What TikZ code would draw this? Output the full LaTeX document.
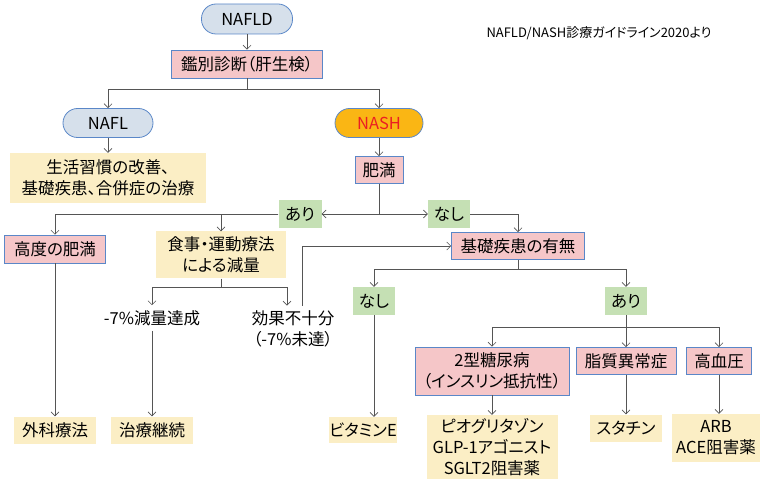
\documentclass[tikz,border=0pt]{standalone}
\usepackage{fontspec}
\setmainfont{Noto Sans CJK JP}[RawFeature=+palt]
\usetikzlibrary{arrows.meta}

\definecolor{termblue}{RGB}{214,224,235}
\definecolor{edgeblue}{RGB}{90,135,200}
\definecolor{boxpink}{RGB}{245,198,200}
\definecolor{boxyellow}{RGB}{251,238,197}
\definecolor{boxgreen}{RGB}{197,224,180}
\definecolor{nashorange}{RGB}{250,182,20}
\definecolor{nashred}{RGB}{235,30,35}
\definecolor{linegray}{RGB}{85,85,85}

\begin{document}
\begin{tikzpicture}
  [x=1pt,y=-1pt,
   every node/.style={font=\fontsize{16.5}{21}\selectfont,align=center,inner sep=0pt},
   term/.style={draw=edgeblue,line width=0.8pt,fill=termblue,rounded corners=14.5pt,minimum width=91pt,minimum height=30pt},
   pinkbox/.style={draw=edgeblue,line width=0.8pt,fill=boxpink,minimum height=28pt},
   yellowbox/.style={fill=boxyellow,minimum height=27pt},
   greenbox/.style={fill=boxgreen,minimum width=42pt,minimum height=28pt},
   note/.style={inner sep=5pt},
   wire/.style={draw=linegray,line width=0.6pt},
   link/.style={wire,-{Straight Barb[length=4pt,width=8pt]}}]
\useasboundingbox (0,0) rectangle (761,481);

\node (nafld)[term] at (247,19) {NAFLD};
\node (kanbetsu)[pinkbox,minimum width=151pt] at (247,64) {鑑別診断（肝生検）};
\node (nafl)[term,minimum width=90pt,minimum height=29pt] at (108,123) {NAFL};
\node (nash)[term,fill=nashorange,minimum width=88pt,minimum height=29pt] at (379,123) {\textcolor{nashred}{NASH}};
\node (seikatsu)[yellowbox,minimum width=196pt,minimum height=50pt] at (108,178) {生活習慣の改善、\\基礎疾患、合併症の治療};
\node (himan)[pinkbox,minimum width=48pt,minimum height=27pt] at (379,170) {肥満};
\node (ari1)[greenbox,minimum width=43pt] at (300,214) {あり};
\node (nashi1)[greenbox] at (449,214) {なし};
\node (koudo)[pinkbox,minimum width=101pt] at (55,249) {高度の肥満};
\node (shokuji)[yellowbox,minimum width=130pt,minimum height=47pt] at (221,255) {食事・運動療法\\による減量};
\node (kiso)[pinkbox,minimum width=133pt,minimum height=27pt] at (518,246) {基礎疾患の有無};
\node (tassei)[note] at (152,318) {-7\%減量達成};
\node (fusoku)[note] at (293,329) {効果不十分\\（-7\%未達）};
\node (nashi2)[greenbox] at (374,301) {なし};
\node (ari2)[greenbox] at (626,301) {あり};
\node (geka)[yellowbox,minimum width=82pt] at (55,430) {外科療法};
\node (keizoku)[yellowbox,minimum width=82pt] at (152,430) {治療継続};
\node (vitE)[yellowbox,minimum width=68pt,minimum height=26pt] at (363,430) {ビタミンE};
\node (tounyou)[pinkbox,minimum width=154pt,minimum height=48pt] at (492,371) {2型糖尿病\\（インスリン抵抗性）};
\node (shishitsu)[pinkbox,minimum width=100pt,minimum height=27pt] at (626,361) {脂質異常症};
\node (kouketsu)[pinkbox,minimum width=65pt,minimum height=27pt] at (719,361) {高血圧};
\node (pio)[yellowbox,minimum width=131pt,minimum height=64pt] at (492,447) {ピオグリタゾン\\GLP-1アゴニスト\\SGLT2阻害薬};
\node (statin)[yellowbox,minimum width=72pt] at (626,428) {スタチン};
\node (arb)[yellowbox,minimum width=88pt,minimum height=48pt] at (716,438) {ARB\\ACE阻害薬};
\node (title)[font=\fontsize{13}{16}\selectfont] at (599,33) {NAFLD/NASH診療ガイドライン2020より};

\coordinate (br1) at (247,89);
\coordinate (br2) at (379,214);
\coordinate (br3) at (221,287);
\coordinate (br4) at (518,269);
\coordinate (br5) at (626,327);

\foreach \from/\to in {kanbetsu/br1,himan/br2,shokuji/br3,kiso/br4,ari2/br5}
  \draw[wire] (\from) -- (\to);
\foreach \from/\to in {nafld/kanbetsu,nafl/seikatsu,nash/himan,br2/ari1,br2/nashi1,
    koudo/geka,tassei/keizoku,br5/shishitsu,shishitsu/statin,tounyou/pio}
  \draw[link] (\from) -- (\to);
\foreach \from/\to in {br1/nafl,br1/nash,ari1/koudo,ari1/shokuji,nashi1/kiso,
    br3/tassei,br4/nashi2,br4/ari2,br5/tounyou,br5/kouketsu}
  \draw[link] (\from) -| (\to);
\draw[link] (br3) -| ([xshift=-6pt]fusoku.north);
\draw[link] ([xshift=9pt]fusoku.north) |- (kiso);
\draw[link] (nashi2) -- (nashi2 |- vitE.north);
\draw[link] (kouketsu) -- (kouketsu |- arb.north);
\end{tikzpicture}
\end{document}
